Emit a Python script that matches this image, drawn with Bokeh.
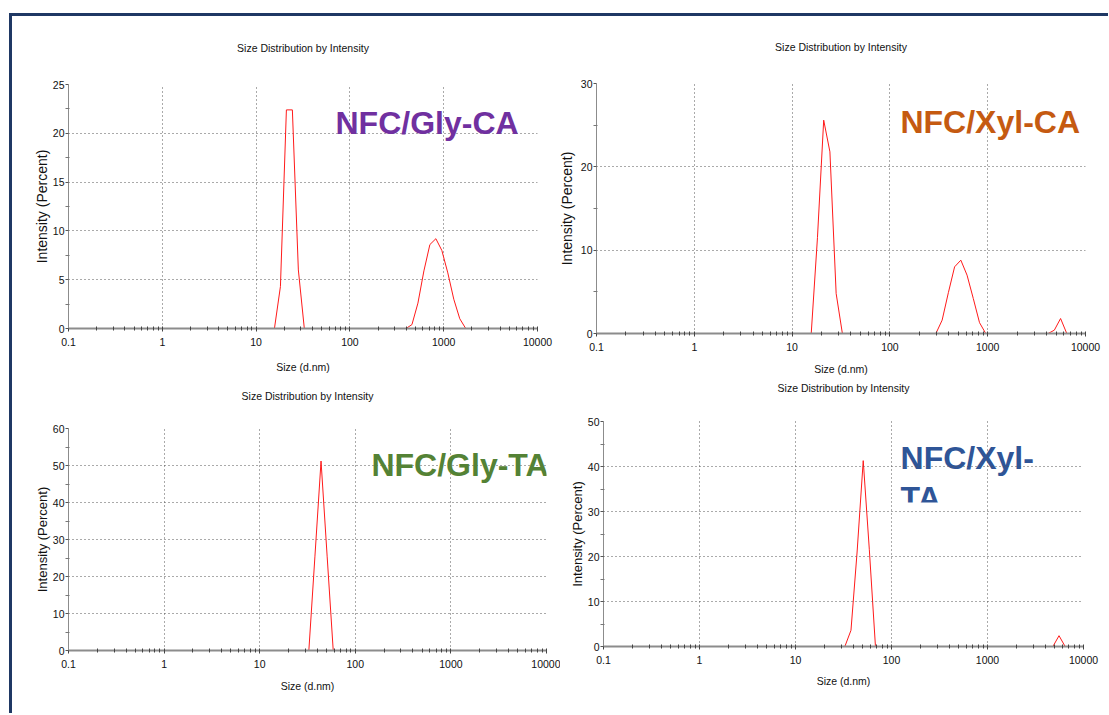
from bokeh.plotting import figure
from bokeh.layouts import column, row
from bokeh.models import (Range1d, FixedTicker, Label, BoxAnnotation,
                          CustomJSTickFormatter, LogAxis)
from bokeh.embed import file_html
from bokeh.resources import INLINE

# ---------------- data ----------------
sizes_nm = [0.4000, 0.4632, 0.5365, 0.6213, 0.7195, 0.8332, 0.9649, 1.117, 1.294, 1.499,
            1.736, 2.010, 2.328, 2.696, 3.122, 3.615, 4.187, 4.849, 5.615, 6.503,
            7.531, 8.721, 10.10, 11.70, 13.54, 15.69, 18.17, 21.04, 24.36, 28.21,
            32.67, 37.84, 43.82, 50.75, 58.77, 68.06, 78.82, 91.28, 105.7, 122.4,
            141.8, 164.2, 190.1, 220.2, 255.0, 295.3, 342.0, 396.1, 458.7, 531.2,
            615.1, 712.4, 825.0, 955.4, 1106, 1281, 1484, 1718, 1990, 2305,
            2669, 3091, 3580, 4145, 4801, 5560, 6439, 7456, 8635, 10000]

gly_ca = [0, 0, 0, 0, 0, 0, 0, 0, 0, 0,
          0, 0, 0, 0, 0, 0, 0, 0, 0, 0,
          0, 0, 0, 0, 0, 0, 4.3, 22.4, 22.4, 6.0,
          0, 0, 0, 0, 0, 0, 0, 0, 0, 0,
          0, 0, 0, 0, 0, 0, 0, 0, 0.4, 2.6,
          5.9, 8.6, 9.2, 8.0, 5.7, 3.0, 1.0, 0, 0, 0,
          0, 0, 0, 0, 0, 0, 0, 0, 0, 0]

xyl_ca = [0, 0, 0, 0, 0, 0, 0, 0, 0, 0,
          0, 0, 0, 0, 0, 0, 0, 0, 0, 0,
          0, 0, 0, 0, 0, 0, 11.5, 25.6, 21.8, 4.8,
          0, 0, 0, 0, 0, 0, 0, 0, 0, 0,
          0, 0, 0, 0, 0, 0, 1.6, 4.9, 8.0, 8.8,
          7.0, 4.2, 1.3, 0, 0, 0, 0, 0, 0, 0,
          0, 0, 0, 0, 0.4, 1.8, 0, 0, 0, 0]

gly_ta = [0, 0, 0, 0, 0, 0, 0, 0, 0, 0,
          0, 0, 0, 0, 0, 0, 0, 0, 0, 0,
          0, 0, 0, 0, 0, 0, 0, 0, 0, 0,
          0, 25.5, 51.2, 25.5, 0, 0, 0, 0, 0, 0,
          0, 0, 0, 0, 0, 0, 0, 0, 0, 0,
          0, 0, 0, 0, 0, 0, 0, 0, 0, 0,
          0, 0, 0, 0, 0, 0, 0, 0, 0, 0]

xyl_ta = [0, 0, 0, 0, 0, 0, 0, 0, 0, 0,
          0, 0, 0, 0, 0, 0, 0, 0, 0, 0,
          0, 0, 0, 0, 0, 0, 0, 0, 0, 0,
          0, 3.6, 21.0, 41.3, 21.5, 0, 0, 0, 0, 0,
          0, 0, 0, 0, 0, 0, 0, 0, 0, 0,
          0, 0, 0, 0, 0, 0, 0, 0, 0, 0,
          0, 0, 0, 0, 0, 2.4, 0, 0, 0, 0]

x_ticks = [0.1, 1, 10, 100, 1000, 10000]
x_minor_ticks = [0.2, 0.3, 0.4, 0.5, 0.6, 0.7, 0.8, 0.9,
                 2, 3, 4, 5, 6, 7, 8, 9,
                 20, 30, 40, 50, 60, 70, 80, 90,
                 200, 300, 400, 500, 600, 700, 800, 900,
                 2000, 3000, 4000, 5000, 6000, 7000, 8000, 9000]

TITLE = "Size Distribution by Intensity"
X_LABEL = "Size (d.nm)"
Y_LABEL = "Intensity (Percent)"

FONT = "Liberation Sans"
SMALL = "10.5px"


def make_panel(values, ymax, ystep, yminor, width, height, borders,
               title_standoff, x_label_standoff, y_label_standoff, y_label_size):
    left, right, top, bottom = borders
    p = figure(width=width, height=height, x_axis_type="log",
               x_range=Range1d(0.1, 10000), y_range=Range1d(0, ymax),
               output_backend="svg", toolbar_location=None,
               min_border_left=left, min_border_right=right,
               min_border_top=top, min_border_bottom=bottom,
               background_fill_color="white", border_fill_color="white")
    p.outline_line_color = None

    xa = p.below[0]
    ya = p.left[0]

    # chart title: label of a bare axis above the frame
    title_axis = LogAxis(ticker=FixedTicker(ticks=[]), axis_line_color=None,
                         major_tick_line_color=None, minor_tick_line_color=None,
                         major_tick_in=0, major_tick_out=0,
                         minor_tick_in=0, minor_tick_out=0, major_label_standoff=0,
                         axis_label=TITLE, axis_label_standoff=title_standoff,
                         axis_label_text_font=FONT, axis_label_text_font_size=SMALL,
                         axis_label_text_font_style="normal",
                         axis_label_text_color="#111111")
    p.add_layout(title_axis, "above")

    ymaj = [ystep * i for i in range(int(round(ymax / ystep)) + 1)]
    ymin = [yminor + ystep * i for i in range(int(round(ymax / ystep)))]

    xa.ticker = FixedTicker(ticks=x_ticks, minor_ticks=x_minor_ticks)
    xa.formatter = CustomJSTickFormatter(code="return tick.toString();")
    xa.axis_label = X_LABEL
    xa.axis_label_standoff = x_label_standoff
    xa.axis_label_text_font = FONT
    xa.axis_label_text_font_size = SMALL
    xa.axis_label_text_font_style = "normal"
    xa.axis_label_text_color = "#111111"
    xa.major_label_text_font = FONT
    xa.major_label_text_font_size = SMALL
    xa.major_label_text_color = "#111111"
    xa.major_label_standoff = 6
    xa.axis_line_color = "#8c8c8c"
    xa.axis_line_width = 2
    xa.major_tick_line_color = "#444444"
    xa.minor_tick_line_color = "#444444"
    xa.major_tick_in = 2
    xa.major_tick_out = 3
    xa.minor_tick_in = 2
    xa.minor_tick_out = 2

    ya.ticker = FixedTicker(ticks=ymaj, minor_ticks=ymin)
    ya.axis_label = Y_LABEL
    ya.axis_label_standoff = y_label_standoff
    ya.axis_label_text_font = FONT
    ya.axis_label_text_font_size = y_label_size
    ya.axis_label_text_font_style = "normal"
    ya.axis_label_text_color = "#111111"
    ya.major_label_text_font = FONT
    ya.major_label_text_font_size = SMALL
    ya.major_label_text_color = "#111111"
    ya.major_label_standoff = 1
    ya.axis_line_color = "#8c8c8c"
    ya.axis_line_width = 1
    ya.major_tick_line_color = "#555555"
    ya.minor_tick_line_color = "#777777"
    ya.major_tick_in = 0
    ya.major_tick_out = 3
    ya.minor_tick_in = 1
    ya.minor_tick_out = 3

    for g in (p.xgrid[0], p.ygrid[0]):
        g.grid_line_color = "#555555"
        g.grid_line_dash = "1 3"
        g.grid_line_width = 1

    p.line(sizes_nm, values, line_color="#ff1a1a", line_width=1)
    return p


def big_label(p, text, x, y, color):
    p.add_layout(Label(x=x, y=y, text=text, text_font=FONT,
                       text_font_size="32px", text_font_style="bold",
                       text_color=color, text_baseline="alphabetic",
                       text_align="left"))


p1 = make_panel(gly_ca, 25, 5, 2.5, 543, 361, (56, 18, 68, 49), 31, 12, 0, "14px")
big_label(p1, "NFC/Gly-CA", 70.2, 21.1, "#7030A0")

p2 = make_panel(xyl_ca, 30, 10, 5, 553, 361, (41, 23, 67, 44), 31, 9, 3, "14px")
big_label(p2, "NFC/Xyl-CA", 128.2, 25.4, "#C55A11")

p3 = make_panel(gly_ta, 60, 10, 5, 548, 336, (56, 14, 51, 63), 27, 9, 0, "13px")
big_label(p3, "NFC/Gly-TA", 147.6, 50.2, "#548235")

p4 = make_panel(xyl_ta, 50, 10, 5, 548, 336, (43, 25, 44, 67), 28, 8, 0, "13px")
big_label(p4, "NFC/Xyl-", 124.2, 42.0, "#2F5597")
big_label(p4, "TA", 124.2, 33.0, "#2F5597")
p4.add_layout(BoxAnnotation(left=100, right=400, bottom=27.0, top=32.0,
                            fill_color="white", fill_alpha=1.0, line_color=None))
p4.xgrid[0].level = "overlay"
p4.ygrid[0].level = "overlay"

top_row = row(column(p1), column(p2), spacing=0)
bottom_row = row(column(p3), column(p4), spacing=0)
layout = column(top_row, bottom_row, spacing=0,
                margin=(13, 0, 0, 9),
                styles={"border-top": "3px solid #1f3864",
                        "border-left": "3px solid #1f3864"})

open("out.html", "w").write(file_html(layout, INLINE))
